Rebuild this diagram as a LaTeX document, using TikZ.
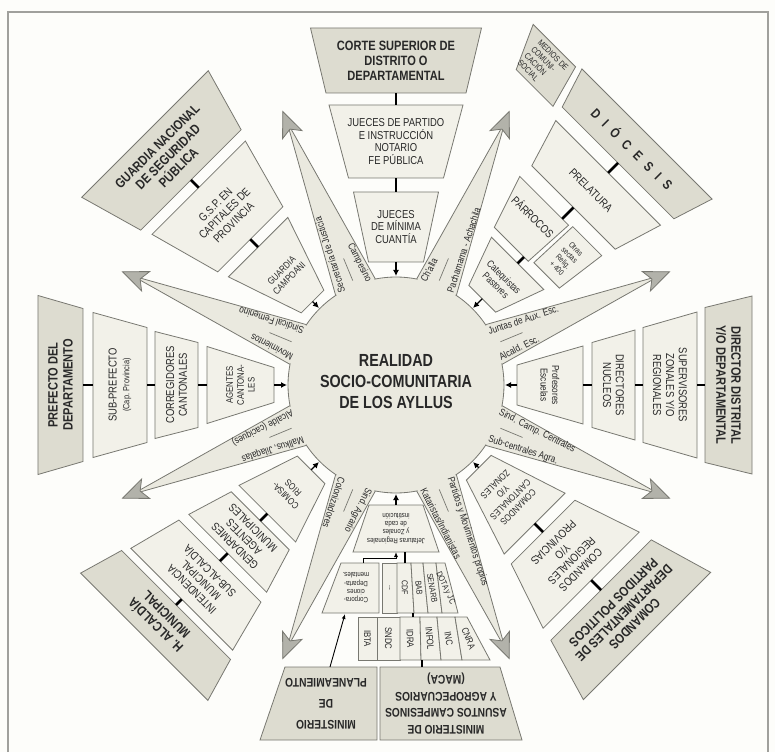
\documentclass[tikz,border=0pt]{standalone}
\usepackage{fontspec}
\setmainfont{Liberation Sans}[FakeStretch=0.82]
\usetikzlibrary{arrows.meta}

\definecolor{paper}{RGB}{253,253,250}
\definecolor{palefill}{RGB}{242,241,233}
\definecolor{darkfill}{RGB}{221,220,208}
\definecolor{hubfill}{RGB}{234,233,223}
\definecolor{edgegray}{RGB}{120,120,113}
\definecolor{headfill}{RGB}{178,178,170}
\definecolor{ink}{RGB}{40,40,40}

\tikzset{
  lightbox/.style={fill=palefill, draw=edgegray, line width=0.8pt},
  darkbox/.style={fill=darkfill, draw=edgegray, line width=0.8pt},
  boldtxt/.style={font=\fontsize{13.5}{15}\selectfont\bfseries, text=ink, align=center, inner sep=0pt},
  captxt/.style={font=\fontsize{11.5}{12.8}\selectfont, text=ink, align=center, inner sep=0pt},
  midtxt/.style={font=\fontsize{9.5}{10.8}\selectfont, text=ink, align=center, inner sep=0pt},
  smalltxt/.style={font=\fontsize{10}{11.5}\selectfont, text=ink, align=center, inner sep=0pt},
  tinytxt/.style={font=\fontsize{7.5}{8.3}\selectfont, text=ink, align=center, inner sep=0pt},
  celltxt/.style={font=\fontsize{8.5}{9}\selectfont, text=ink, inner sep=0pt},
  wedgetxt/.style={font=\fontsize{10}{10}\selectfont, text=ink, inner sep=0pt},
  link/.style={line width=2.6pt, black},
  into/.style={-{Latex[length=6pt,width=6pt]}, line width=1.3pt, black},
  feed/.style={-{Latex[length=5pt,width=4pt]}, line width=0.9pt, black},
}

% bloque trapezoidal: nombre, relleno, texto, r1, semi-ancho1, r2, semi-ancho2, etiqueta
\newcommand\tblock[8]{%
  \draw[#2] (-#5,#4) -- (#5,#4) -- (#7,#6) -- (-#7,#6) -- cycle;
  \node[#3] (#1) at (0,{(#4+#6)/2}) {#8};
  \coordinate (#1-in) at (0,#4);
  \coordinate (#1-out) at (0,#6);
}

\begin{document}
\begin{tikzpicture}[x=1pt, y=1pt]
  \useasboundingbox (-396,-367) rectangle (379,385);
  \fill[paper] (-396,-367) rectangle (379,385);
  \draw[edgegray!70, line width=1.5pt] (-388,-367) -- (-388,373) -- (372,373) -- (372,-367);

  % flechas grises
  \foreach \a in {22.5,67.5,112.5,157.5,202.5,247.5,292.5,337.5}{
    \fill[hubfill, rotate=\a] (105.8,21.5) -- (285,0) -- (105.8,-21.5) -- cycle;
  }
  \fill[hubfill] (0,0) circle (108);
  \foreach \s in {0,45,...,315}{
    \draw[edgegray, line width=0.8pt] ({\s-11.5}:108) arc[start angle={\s-11.5}, end angle={\s+11.5}, radius=108];
  }
  \foreach \a in {22.5,67.5,112.5,157.5,202.5,247.5,292.5,337.5}{
    \begin{scope}[rotate=\a]
      \draw[edgegray, line width=0.8pt] (105.8,21.5) -- (285,0) -- (105.8,-21.5);
      \draw[edgegray, line width=0.8pt, fill=headfill] (296,0) -- (271,10.5) -- (277,0) -- (271,-10.5) -- cycle;
      \draw[edgegray, line width=0.7pt] (113,0) -- (137,0);
    \end{scope}
  }
  \foreach \a/\up/\dn/\dr/\da [count=\i] in {
      22.5/{Juntas de Aux. Esc.}/{Alcald. Esc.}/4.5/west,
      67.5/{Ch'alla}/{Pachamama - Achachila}/4.5/west,
      112.5/{Secretaría de Justicia}/{Campesino}/184.5/east,
      157.5/{Movimientos}/{Sindical Femenino}/4.5/west,
      202.5/{Mallkus, Jilaqatas}/{Alcalde (caciques)}/4.5/west,
      247.5/{Sind. Agrario}/{Colonizadores}/4.5/west,
      292.5/{Partidos y Movimientos propios}/{Kataristas/Indianistas}/4.5/west,
      337.5/{Sind. Camp. Centrales}/{Sub-centrales Agra.}/4.5/west}{
    \begin{scope}[rotate=\a, transform shape]
      \node[wedgetxt, anchor=west, rotate=-4.5] (wu\i) at (106,14.5) {\up};
      \node[wedgetxt, anchor=\da, rotate=\dr] (wd\i) at (106,-14.5) {\dn};
    \end{scope}
  }

  \node[font=\fontsize{17.5}{21}\selectfont\bfseries, text=ink, align=center] (realidad) at (0,3)
    {REALIDAD\\SOCIO-COMUNITARIA\\DE LOS AYLLUS};

  % poder judicial
  \tblock{minima}{lightbox}{captxt}{123}{27.5}{193}{42.5}{JUECES\\DE MÍNIMA\\CUANTÍA}
  \tblock{partido}{lightbox}{captxt}{207}{47.5}{280}{67}{JUECES DE PARTIDO\\E INSTRUCCIÓN\\NOTARIO\\FE PÚBLICA}
  \tblock{corte}{darkbox}{boldtxt}{292}{70}{357}{85.5}{CORTE SUPERIOR DE\\DISTRITO O\\DEPARTAMENTAL}
  \coordinate (hubN) at (0,109);
  \draw[into] (minima-in) -- (hubN);
  \draw[link] (minima-out) -- (partido-in);
  \draw[link] (partido-out) -- (corte-in);

  % guardia
  \begin{scope}[rotate=45, transform shape]
    \tblock{campoani}{lightbox}{midtxt}{118}{16}{195}{42}{GUARDIA\\CAMPOANI}
    \tblock{gsp}{lightbox}{captxt}{206}{46}{279}{66}{G.S.P. EN\\CAPITALES DE\\PROVINCIA}
    \tblock{guardia}{darkbox}{boldtxt}{290}{71}{355}{89.5}{GUARDIA NACIONAL\\DE SEGURIDAD\\PÚBLICA}
    \coordinate (hubNW) at (0,109);
    \draw[into] (campoani-in) -- (hubNW);
    \draw[link] (campoani-out) -- (gsp-in);
    \draw[link] (gsp-out) -- (guardia-in);
  \end{scope}

  % prefectura
  \begin{scope}[rotate=90, transform shape]
    \tblock{agentes}{lightbox}{midtxt}{122}{17.5}{189}{38.5}{AGENTES\\CANTONA-\\LES}
    \tblock{corregidores}{lightbox}{captxt}{198}{42.5}{241}{53.5}{CORREGIDORES\\CANTONALES}
    \tblock{subprefecto}{lightbox}{captxt}{249}{57.5}{303}{72.5}{SUB-PREFECTO\\{\fontsize{9}{10}\selectfont(Cap. Provincia)}}
    \tblock{prefecto}{darkbox}{boldtxt}{313}{76.5}{358}{89.5}{PREFECTO DEL\\DEPARTAMENTO}
    \coordinate (hubW) at (0,109);
    \draw[into] (agentes-in) -- (hubW);
    \draw[link] (agentes-out) -- (corregidores-in);
    \draw[link] (corregidores-out) -- (subprefecto-in);
    \draw[link] (subprefecto-out) -- (prefecto-in);
  \end{scope}

  % alcaldia
  \begin{scope}[rotate=135, transform shape]
    \tblock{comisarios}{lightbox}{midtxt}{120}{19.5}{182}{40}{COMISA-\\RIOS}
    \tblock{gendarmes}{lightbox}{captxt}{192}{41}{238}{55}{GENDARMES\\AGENTES\\MUNICIPALES}
    \tblock{intendencia}{lightbox}{captxt}{249}{58}{303}{72}{INTENDENCIA\\MUNICIPAL\\SUB-ALCALDÍA}
    \tblock{alcaldia}{darkbox}{boldtxt}{311}{77}{356}{90}{H. ALCALDÍA\\MUNICIPAL}
    \coordinate (hubSW) at (0,109);
    \draw[into] (comisarios-in) -- (hubSW);
    \draw[link] (comisarios-out) -- (gendarmes-in);
    \draw[link] (gendarmes-out) -- (intendencia-in);
    \draw[link] (intendencia-out) -- (alcaldia-in);
  \end{scope}

  % ministerios
  \begin{scope}[rotate=180, transform shape]
    \tblock{jefaturas}{lightbox}{tinytxt}{120}{27}{167}{43}{Jefaturas Regionales\\y Zonales\\de cada\\institución}
    \draw[lightbox] (17,178) -- (55,178) -- (74,228) -- (17,228) -- cycle;
    \node[tinytxt] (corporaciones) at (40,203) {Corpora-\\ciones\\Departa-\\mentales.};
    \foreach \nm/\tx/\ta/\tb/\ba/\bb/\rt in {
        dots/{...}/14/-1/14/-1/90, cdf/CDF/-1/-15/-1/-18/90, bab/BAB/-15/-27/-18/-32/95,
        senarb/SENARB/-27/-40/-32/-46/100, dota/{DOTA y JC}/-40/-49/-46/-62/115}{
      \draw[lightbox] (\ta,178) -- (\tb,178) -- (\bb,228) -- (\ba,228) -- cycle;
      \node[celltxt, rotate=\rt] (\nm) at ({(\ta+\tb+\ba+\bb)/4},203) {\tx};
    }
    \foreach \nm/\tx/\ta/\tb/\ba/\bb/\rt in {
        ibta/IBTA/38/19/38/19/90, sndc/SNDC/19/-4/19/-4/90, idra/IDRA/-4/-24/-4/-25/92,
        infol/INFOL/-24/-41/-25/-45/96, inc/INC/-41/-59/-45/-66/100, cnra/CNRA/-59/-71/-66/-94/112}{
      \draw[lightbox] (\ta,232) -- (\tb,232) -- (\bb,275) -- (\ba,275) -- cycle;
      \node[celltxt, font=\fontsize{9.5}{10}\selectfont, rotate=\rt] (\nm) at ({(\ta+\tb+\ba+\bb)/4},253.5) {\tx};
    }
    \draw[darkbox] (19,282) -- (111,282) -- (136,355) -- (19,355) -- cycle;
    \node[boldtxt, font=\fontsize{12.5}{21}\selectfont\bfseries] (planeamiento) at (70,318.5) {MINISTERIO\\DE\\PLANEAMIENTO};
    \draw[darkbox] (16,282) -- (-104,282) -- (-126,355) -- (16,355) -- cycle;
    \node[boldtxt, font=\fontsize{12.5}{16.5}\selectfont\bfseries] (maca) at (-50,318.5) {MINISTERIO DE\\ASUNTOS CAMPESINOS\\Y AGROPECUARIOS\\(MACA)};
    \coordinate (hubS) at (0,109);
    \draw[into] (jefaturas-in) -- (hubS);
    \coordinate (jtap) at (-9,167);
    \coordinate (ctap) at (-9,178);
    \draw[link] (ctap) -- (jtap);
    \coordinate (ptop) at (33,178);
    \coordinate (pknee) at (0,173);
    \draw[feed] (ptop) |- (pknee) -- (jefaturas-out);
    \coordinate (r2tap) at (-17,228);
    \coordinate (r3tap) at (-17,232);
    \draw[link] (r3tap) -- (r2tap);
    \coordinate (r3low) at (-26,275);
    \coordinate (macatap) at (-26,282);
    \draw[link] (macatap) -- (r3low);
    \coordinate (plantap) at (66,282);
    \coordinate (corplow) at (51,229);
    \draw[feed] (plantap) -- (corplow);
  \end{scope}

  % partidos
  \begin{scope}[rotate=-135, transform shape]
    \tblock{zonales}{lightbox}{midtxt}{117}{17.5}{196}{43}{COMANDOS\\CANTONALES\\Y/O\\ZONALES}
    \tblock{provincias}{lightbox}{captxt}{208}{45}{276}{68}{COMANDOS\\REGIONALES\\Y/O\\PROVINCIAS}
    \tblock{politicos}{darkbox}{boldtxt}{290}{71}{355}{90}{COMANDOS\\DEPARTAMENTALES DE\\PARTIDOS POLITICOS}
    \coordinate (hubSE) at (0,109);
    \draw[into] (zonales-in) -- (hubSE);
    \draw[link] (zonales-out) -- (provincias-in);
    \draw[link] (provincias-out) -- (politicos-in);
  \end{scope}

  % educacion
  \begin{scope}[rotate=-90, transform shape]
    \tblock{profesores}{lightbox}{smalltxt}{121}{20}{187}{39}{Profesores\\Escuelas}
    \tblock{directores}{lightbox}{captxt}{196}{42.5}{239}{55}{DIRECTORES\\NUCLEOS}
    \tblock{supervisores}{lightbox}{captxt}{247}{57.5}{301}{73}{SUPERVISORES\\ZONALES Y/O\\REGIONALES}
    \tblock{distrital}{darkbox}{boldtxt}{309}{77.5}{356}{89}{DIRECTOR DISTRITAL\\Y/O DEPARTAMENTAL}
    \coordinate (hubE) at (0,109);
    \draw[into] (profesores-in) -- (hubE);
    \draw[link] (profesores-out) -- (directores-in);
    \draw[link] (directores-out) -- (supervisores-in);
    \draw[link] (supervisores-out) -- (distrital-in);
  \end{scope}

  % iglesia
  \begin{scope}[rotate=-45, transform shape]
    \tblock{catequistas}{lightbox}{smalltxt}{122}{19}{172}{37}{Catequistas\\Pastores}
    \draw[lightbox] (-42,181) -- (6,181) -- (9,235) -- (-60,235) -- cycle;
    \node[captxt] (parrocos) at (-22,216) {PÁRROCOS};
    \coordinate (parrocos-in) at (0,181);
    \coordinate (parrocos-out) at (0,235);
    \draw[lightbox] (11,184) -- (47,184) -- (54,237) -- (13,237) -- cycle;
    \node[tinytxt, font=\fontsize{8}{9}\selectfont] (otras) at (31,210) {Otras\\sectas\\Relig.\\+ 400};
    \tblock{prelatura}{lightbox}{captxt}{251}{59}{300}{74}{PRELATURA}
    \tblock{diocesis}{darkbox}{boldtxt}{314}{79}{355}{92}{D\hspace{8pt}I\hspace{8pt}Ó\hspace{8pt}C\hspace{8pt}E\hspace{8pt}S\hspace{8pt}I\hspace{8pt}S}
    \draw[darkbox] (-138,308) -- (-86,308) -- (-98,352) -- (-158,352) -- cycle;
    \node[tinytxt, font=\fontsize{8.5}{9.5}\selectfont, align=left] (medios) at (-122,330) {MEDIOS DE\\COMUNI-\\CACIÓN\\SOCIAL};
    \coordinate (hubNE) at (0,109);
    \draw[into] (catequistas-in) -- (hubNE);
    \draw[link] (catequistas-out) -- (parrocos-in);
    \draw[link] (parrocos-out) -- (prelatura-in);
    \draw[link] (prelatura-out) -- (diocesis-in);
  \end{scope}
\end{tikzpicture}
\end{document}
